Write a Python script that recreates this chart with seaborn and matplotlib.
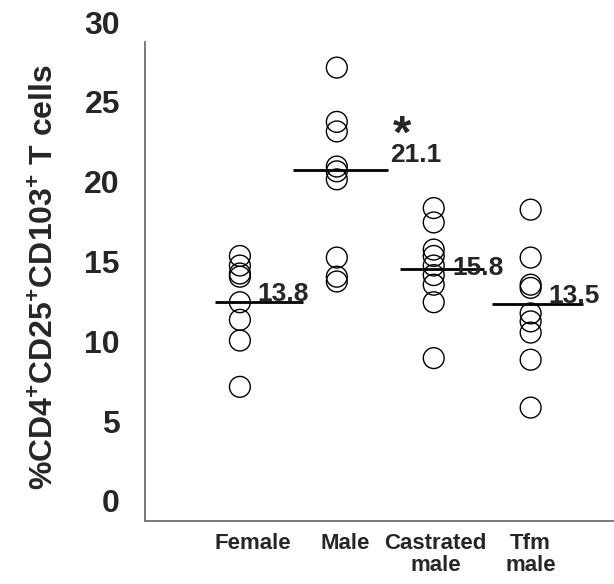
import matplotlib
matplotlib.use('Agg')
import matplotlib.pyplot as plt
import matplotlib.transforms as mtransforms
import numpy as np
import pandas as pd
import seaborn as sns

# values
groups = ["Female", "Male", "Castrated\nmale", "Tfm\nmale"]
female = [16.6, 16.0, 15.5, 15.3, 13.7, 12.6, 11.3, 8.4]
male = [28.4, 25.0, 24.4, 22.2, 21.9, 21.4, 16.5, 15.3, 15.0]
castrated = [19.6, 18.7, 17.0, 16.6, 16.0, 15.4, 14.8, 13.7, 10.2]
tfm = [19.5, 16.5, 14.8, 14.6, 13.0, 12.5, 11.8, 10.1, 7.1]
mean_lines = [13.7, 22.0, 15.8, 13.6]
mean_labels = ["13.8", "21.1", "15.8", "13.5"]
y_ticks = [0, 5, 10, 15, 20, 25, 30]

df = pd.DataFrame({
    'group': [groups[0]] * len(female) + [groups[1]] * len(male)
             + [groups[2]] * len(castrated) + [groups[3]] * len(tfm),
    'value': female + male + castrated + tfm,
})

sns.set_style('white')
plt.rcParams['font.family'] = ['Liberation Sans', 'DejaVu Sans']
plt.rcParams['font.weight'] = 'bold'
plt.rcParams['mathtext.fontset'] = 'custom'
plt.rcParams['mathtext.rm'] = 'Liberation Sans:bold'
plt.rcParams['mathtext.bf'] = 'Liberation Sans:bold'

fig = plt.figure(figsize=(6.14, 5.84), dpi=100)
ax = fig.add_axes([0.236, 0.108, 0.764, 0.820])

sns.stripplot(data=df, x='group', y='value', order=groups, jitter=False,
              size=15, color='black', linewidth=1, ax=ax)
for coll in ax.collections:
    coll.set_facecolor('none')
    coll.set_edgecolor('black')
    coll.set_linewidth(1.0)

# mean lines and labels
pos = np.arange(len(groups))
line_left = [0.26, 0.45, 0.35, 0.40]
line_right = [0.65, 0.53, 0.52, 0.54]
ax.hlines(mean_lines, pos - np.array(line_left), pos + np.array(line_right),
          colors='black', lw=2)
text_dx = [0.18, 0.55, 0.19, 0.18]
text_y = [13.8, 22.5, 15.4, 13.65]
for i, lab in enumerate(mean_labels):
    ax.text(pos[i] + text_dx[i], text_y[i], lab, fontsize=19,
            fontweight='bold', va='baseline', ha='left')
ax.text(1.67, 23.4, '*', fontsize=34, fontweight='bold', va='baseline', ha='center')

ax.set_xlim(-0.98, 3.86)
ax.set_ylim(0, 30)
ax.set_yticks(y_ticks)
ax.set_xlabel('')
ax.set_ylabel(r'%CD4$^{\mathbf{+}}$CD25$^{\mathbf{+}}$CD103$^{\mathbf{+}}$ T cells',
              fontsize=23, fontweight='bold')
ax.yaxis.set_label_coords(-0.18, 0.51)

sns.despine(ax=ax)
for side in ['left', 'bottom']:
    ax.spines[side].set_color('#707070')
    ax.spines[side].set_linewidth(1.3)

ax.tick_params(axis='y', length=11, width=1.2, color='#707070', labelsize=23, pad=7)
ax.tick_params(axis='x', length=0, labelsize=16, pad=9)
for lab in ax.get_yticklabels():
    lab.set_fontweight('bold')
    lab.set_transform(lab.get_transform() + mtransforms.ScaledTranslation(0, 0.2, fig.dpi_scale_trans))
x_shift = [0.13, 0.08, 0.02, 0.0]
for lab, dx in zip(ax.get_xticklabels(), x_shift):
    lab.set_fontweight('bold')
    lab.set_linespacing(1.05)
    lab.set_transform(lab.get_transform() + mtransforms.ScaledTranslation(dx, 0, fig.dpi_scale_trans))

fig.savefig('out.png', dpi=100)
